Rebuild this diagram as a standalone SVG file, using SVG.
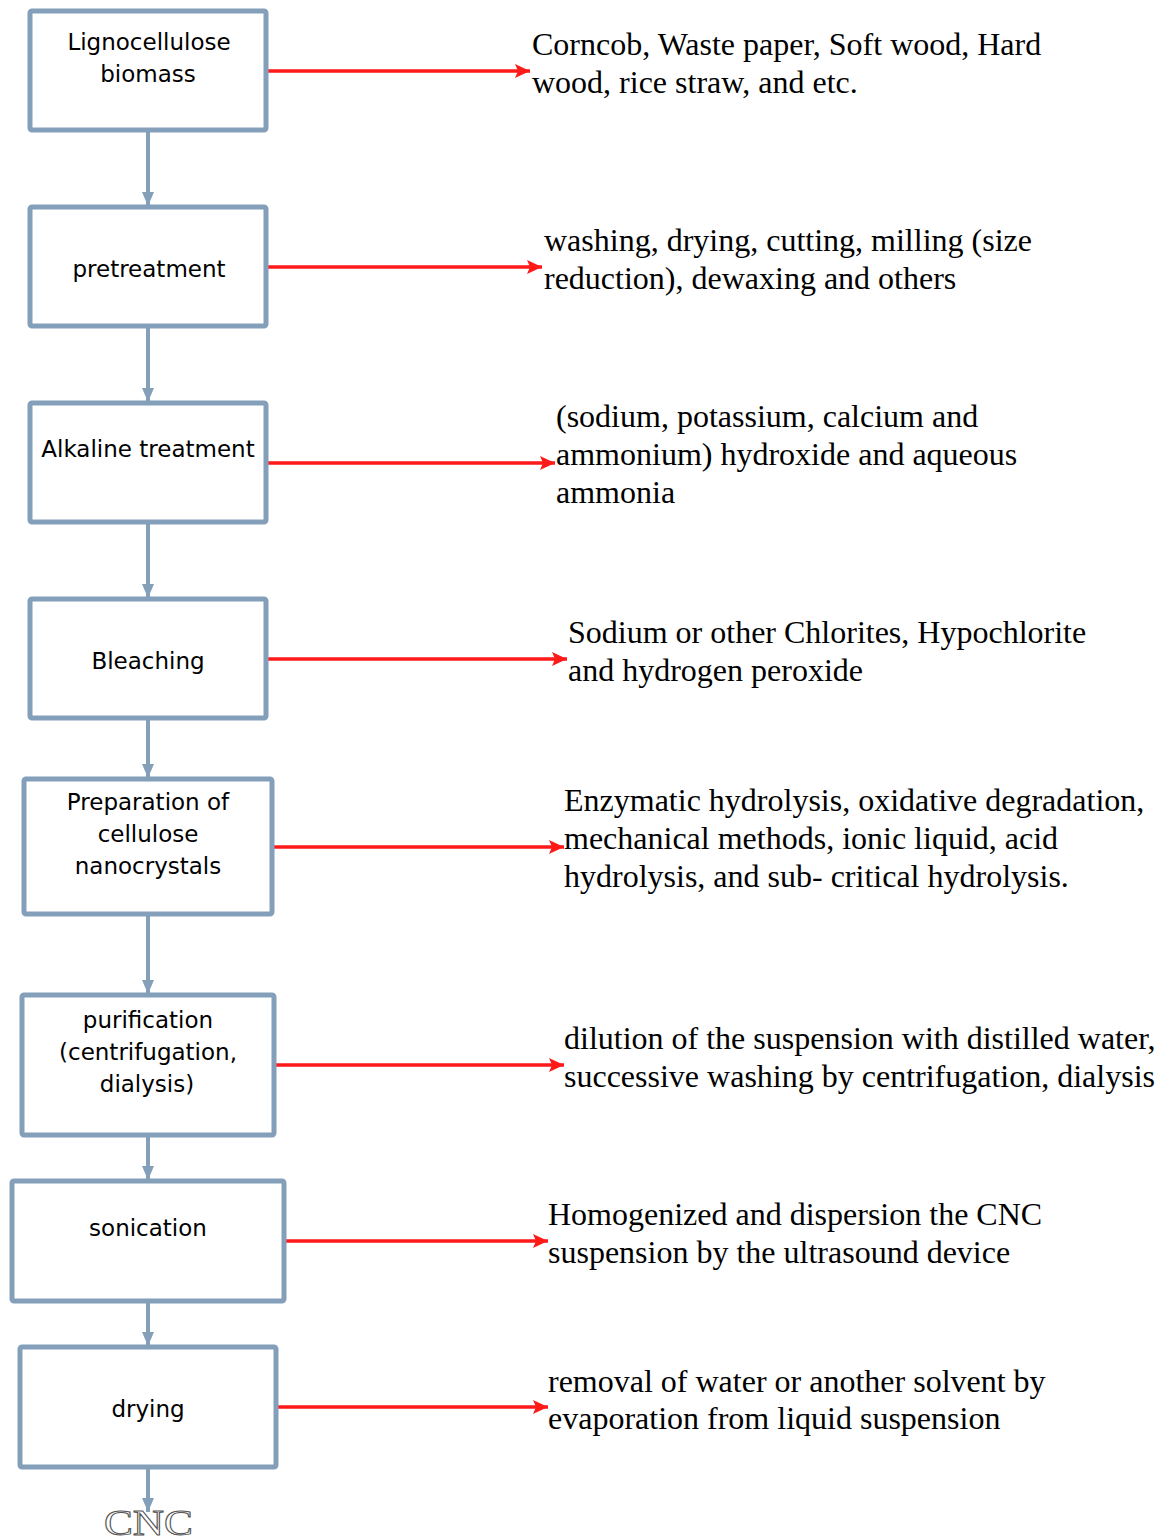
<svg xmlns="http://www.w3.org/2000/svg" width="1173" height="1537" viewBox="0 0 1173 1537">
<style>
.box{fill:#fff;stroke:#849fb9;stroke-width:5}
.bt{font-family:"DejaVu Sans",Verdana,sans-serif;font-size:23px;fill:#000;text-anchor:middle}
.rt{font-family:"Liberation Serif","Times New Roman",serif;font-size:32px;fill:#000}
.v{stroke:#849fb9;stroke-width:4;fill:none}
.r{stroke:#ff1a1a;stroke-width:3.5;fill:none}
</style>
<defs>
<marker id="ba" markerWidth="16" markerHeight="12" refX="14" refY="6" orient="auto" markerUnits="userSpaceOnUse" viewBox="0 0 16 12"><path d="M0,0 L14,6 L0,12 Z" fill="#849fb9"/></marker>
<marker id="ra" markerWidth="16" markerHeight="16" refX="15" refY="8" orient="auto" markerUnits="userSpaceOnUse" viewBox="0 0 16 16"><path d="M0,1 L15,8 L0,15 L3,8 Z" fill="#ff1a1a"/></marker>
</defs>
<g id="connectors">
<line class="v" x1="148" y1="131" x2="148" y2="206" marker-end="url(#ba)"/>
<line class="v" x1="148" y1="327" x2="148" y2="402" marker-end="url(#ba)"/>
<line class="v" x1="148" y1="523" x2="148" y2="598" marker-end="url(#ba)"/>
<line class="v" x1="148" y1="719" x2="148" y2="778" marker-end="url(#ba)"/>
<line class="v" x1="148" y1="915" x2="148" y2="994" marker-end="url(#ba)"/>
<line class="v" x1="148" y1="1136" x2="148" y2="1180" marker-end="url(#ba)"/>
<line class="v" x1="148" y1="1302" x2="148" y2="1346" marker-end="url(#ba)"/>
<line class="v" x1="148" y1="1468" x2="148" y2="1512" marker-end="url(#ba)"/>
<line class="r" x1="267" y1="71" x2="530" y2="71" marker-end="url(#ra)"/>
<line class="r" x1="267" y1="267" x2="542" y2="267" marker-end="url(#ra)"/>
<line class="r" x1="267" y1="463" x2="555" y2="463" marker-end="url(#ra)"/>
<line class="r" x1="267" y1="659" x2="567" y2="659" marker-end="url(#ra)"/>
<line class="r" x1="273" y1="847" x2="564" y2="847" marker-end="url(#ra)"/>
<line class="r" x1="275" y1="1065" x2="564" y2="1065" marker-end="url(#ra)"/>
<line class="r" x1="285" y1="1241" x2="548" y2="1241" marker-end="url(#ra)"/>
<line class="r" x1="277" y1="1407" x2="548" y2="1407" marker-end="url(#ra)"/>
</g>
<g id="n1"><rect class="box" x="30" y="11" width="236" height="119" rx="2"/><text class="bt" x="149" y="50">Lignocellulose</text><text class="bt" x="148" y="82">biomass</text></g>
<g id="n2"><rect class="box" x="30" y="207" width="236" height="119" rx="2"/><text class="bt" x="149" y="277">pretreatment</text></g>
<g id="n3"><rect class="box" x="30" y="403" width="236" height="119" rx="2"/><text class="bt" x="148" y="457">Alkaline treatment</text></g>
<g id="n4"><rect class="box" x="30" y="599" width="236" height="119" rx="2"/><text class="bt" x="148" y="669">Bleaching</text></g>
<g id="n5"><rect class="box" x="24" y="779" width="248" height="135" rx="2"/><text class="bt" x="148" y="810">Preparation of</text><text class="bt" x="148" y="842">cellulose</text><text class="bt" x="148" y="874">nanocrystals</text></g>
<g id="n6"><rect class="box" x="22" y="995" width="252" height="140" rx="2"/><text class="bt" x="148" y="1028">purification</text><text class="bt" x="148" y="1060">(centrifugation,</text><text class="bt" x="147" y="1092">dialysis)</text></g>
<g id="n7"><rect class="box" x="12" y="1181" width="272" height="120" rx="2"/><text class="bt" x="148" y="1236">sonication</text></g>
<g id="n8"><rect class="box" x="20" y="1347" width="256" height="120" rx="2"/><text class="bt" x="148" y="1417">drying</text></g>
<g id="cnc"><text x="104" y="1535" font-family="Liberation Serif,serif" font-size="36" textLength="89" lengthAdjust="spacingAndGlyphs" fill="#fff" stroke="#555" stroke-width="1">CNC</text></g>
<g id="labels">
<text class="rt" x="532" y="55">Corncob, Waste paper, Soft wood, Hard</text>
<text class="rt" x="532" y="93">wood, rice straw, and etc.</text>
<text class="rt" x="544" y="251">washing, drying, cutting, milling (size</text>
<text class="rt" x="544" y="289">reduction), dewaxing and others</text>
<text class="rt" x="556" y="427">(sodium, potassium, calcium and</text>
<text class="rt" x="556" y="465">ammonium) hydroxide and aqueous</text>
<text class="rt" x="556" y="503">ammonia</text>
<text class="rt" x="568" y="643">Sodium or other Chlorites, Hypochlorite</text>
<text class="rt" x="568" y="681">and hydrogen peroxide</text>
<text class="rt" x="564" y="811">Enzymatic hydrolysis, oxidative degradation,</text>
<text class="rt" x="564" y="849">mechanical methods, ionic liquid, acid</text>
<text class="rt" x="564" y="887">hydrolysis, and sub- critical hydrolysis.</text>
<text class="rt" x="564" y="1049">dilution of the suspension with distilled water,</text>
<text class="rt" x="564" y="1087">successive washing by centrifugation, dialysis</text>
<text class="rt" x="548" y="1225">Homogenized and dispersion the CNC</text>
<text class="rt" x="548" y="1263">suspension by the ultrasound device</text>
<text class="rt" x="548" y="1392">removal of water or another solvent by</text>
<text class="rt" x="548" y="1429">evaporation from liquid suspension</text>
</g>
</svg>
